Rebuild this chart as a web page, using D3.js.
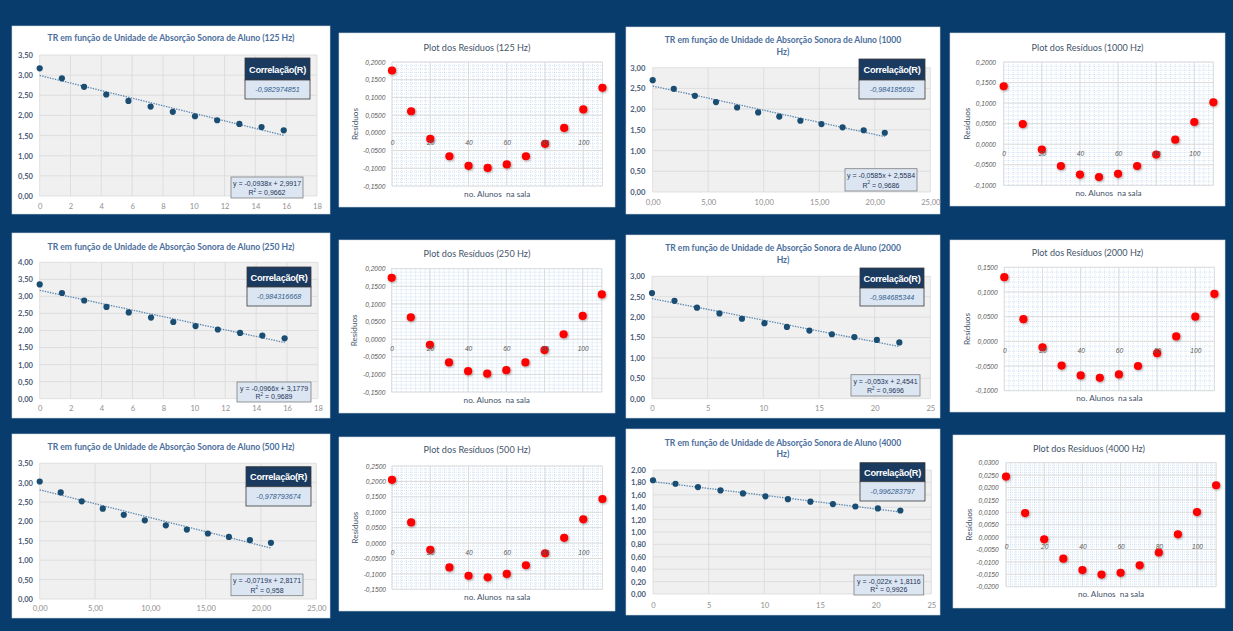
<!DOCTYPE html>
<html><head><meta charset="utf-8">
<script src="https://cdn.jsdelivr.net/npm/d3@7"></script>
<style>body{margin:0;background:#073c6c;} svg{display:block} text{white-space:pre}</style>
</head><body><svg id="c" width="1233" height="631"></svg>
<script>
// ---------------- DATA ----------------
const freqs = ["125 Hz", "250 Hz", "500 Hz", "1000 Hz", "2000 Hz", "4000 Hz"];
const alunos = [0, 10, 20, 30, 40, 50, 60, 70, 80, 90, 100, 110];

const x125 = [0, 1.44, 2.88, 4.32, 5.76, 7.2, 8.64, 10.08, 11.52, 12.96, 14.4, 15.84];
const y125 = [3.17, 2.92, 2.71, 2.52, 2.36, 2.22, 2.09, 1.98, 1.88, 1.79, 1.71, 1.63];
const res125 = [0.176, 0.061, -0.017, -0.066, -0.093, -0.099, -0.089, -0.066, -0.031, 0.014, 0.066, 0.127];

const x250 = [0, 1.44, 2.88, 4.32, 5.76, 7.2, 8.64, 10.08, 11.52, 12.96, 14.4, 15.84];
const y250 = [3.35, 3.10, 2.88, 2.69, 2.53, 2.38, 2.25, 2.13, 2.03, 1.93, 1.85, 1.77];
const res250 = [0.174, 0.062, -0.016, -0.066, -0.091, -0.098, -0.088, -0.066, -0.031, 0.014, 0.066, 0.127];

const x500 = [0, 1.9, 3.8, 5.7, 7.6, 9.5, 11.4, 13.3, 15.2, 17.1, 19.0, 20.9];
const y500 = [3.03, 2.75, 2.52, 2.33, 2.17, 2.03, 1.90, 1.79, 1.69, 1.60, 1.52, 1.45];
const res500 = [0.205, 0.067, -0.022, -0.079, -0.106, -0.111, -0.100, -0.072, -0.033, 0.017, 0.077, 0.143];

const x1000 = [0, 1.9, 3.8, 5.7, 7.6, 9.5, 11.4, 13.3, 15.2, 17.1, 19.0, 20.9];
const y1000 = [2.70, 2.49, 2.32, 2.17, 2.04, 1.92, 1.82, 1.72, 1.64, 1.56, 1.49, 1.43];
const res1000 = [0.141, 0.049, -0.013, -0.053, -0.074, -0.080, -0.072, -0.053, -0.025, 0.011, 0.054, 0.102];

const x2000 = [0, 2.02, 4.04, 6.06, 8.08, 10.1, 12.12, 14.14, 16.16, 18.18, 20.2, 22.22];
const y2000 = [2.59, 2.40, 2.23, 2.09, 1.96, 1.85, 1.76, 1.67, 1.58, 1.51, 1.44, 1.38];
const res2000 = [0.130, 0.045, -0.012, -0.049, -0.069, -0.074, -0.067, -0.050, -0.024, 0.010, 0.050, 0.096];

const x4000 = [0, 2.02, 4.04, 6.06, 8.08, 10.1, 12.12, 14.14, 16.16, 18.18, 20.2, 22.22];
const y4000 = [1.835, 1.778, 1.724, 1.671, 1.622, 1.575, 1.529, 1.489, 1.451, 1.411, 1.380, 1.347];
const res4000 = [0.0244, 0.0097, -0.0009, -0.0087, -0.0133, -0.0151, -0.0144, -0.0114, -0.0062, 0.0011, 0.0101, 0.0209];

const slopes = [-0.0938, -0.0966, -0.0719, -0.0585, -0.053, -0.022];
const intercepts = [2.9917, 3.1779, 2.8171, 2.5584, 2.4541, 1.8116];
const r2Labels = ["0,9662", "0,9689", "0,958", "0,9686", "0,9696", "0,9926"];
const eqLabels = ["y = -0,0938x + 2,9917", "y = -0,0966x + 3,1779", "y = -0,0719x + 2,8171",
                  "y = -0,0585x + 2,5584", "y = -0,053x + 2,4541", "y = -0,022x + 1,8116"];
const corrLabels = ["-0,982974851", "-0,984316668", "-0,978793674", "-0,984185692", "-0,984685344", "-0,996283797"];

// axis tick settings
const trYMax = [3.5, 4, 3.5, 3, 3, 2];
const trYStep = [0.5, 0.5, 0.5, 0.5, 0.5, 0.2];
const trXMax = [18, 18, 25, 25, 25, 25];
const trXStep = [2, 2, 5, 5, 5, 5];
const trXDecimals = [0, 0, 2, 2, 0, 0];
const resYMin = [-0.15, -0.15, -0.15, -0.1, -0.1, -0.02];
const resYMax = [0.2, 0.2, 0.25, 0.2, 0.15, 0.03];
const resYStep = [0.05, 0.05, 0.05, 0.05, 0.05, 0.005];
const resXMax = 110;
const resXTicks = [0, 20, 40, 60, 80, 100];

// ---------------- LAYOUT (pixels) ----------------
const TRL = [
 {card:[12,26,330,214], tY:[38], tW:247, plot:[39.7,55,317,196], xlabY:206, ylabR:33, corr:[245,58,310,80,99], eq:[231,177,303,198]},
 {card:[12,233,330,418], tY:[247], tW:247, plot:[39.7,262.3,318,398.7], xlabY:408, ylabR:33, corr:[247,267,311,287,306], eq:[237,382,311,402]},
 {card:[12,434,330,618], tY:[447.3], tW:247, plot:[39.7,463.3,316.3,599], xlabY:608, ylabR:33, corr:[246,466.7,311,486.7,506], eq:[231,574,303,595.7]},
 {card:[626,27,940,214], tY:[40.3,52], tW:237, plot:[652.7,67.7,930.3,192], xlabY:202, ylabR:645.3, corr:[859,59,925,80,99], eq:[845,168.7,917,191]},
 {card:[626,235,940,418], tY:[248,260], tW:236, plot:[652,276.3,930.3,398.7], xlabY:408, ylabR:645, corr:[860,268,924,288,306], eq:[851,374.7,920,396]},
 {card:[626,429,940,615], tY:[442.7,454.3], tW:237, plot:[653,470,931.3,594], xlabY:605, ylabR:646, corr:[860,462.7,925,481.7,501], eq:[854,575,923.7,595]}
];
const RSL = [
 {card:[339,33,615,207], tY:47, tW:107, x0:392, sc:1.913, y0:62, y1:186, ylabR:385.3, rx:355.3},
 {card:[339,240,615,413], tY:253, tW:107, x0:391.7, sc:1.91, y0:268.7, y1:392, ylabR:385.3, rx:354.3},
 {card:[339,437,615,611], tY:449.3, tW:107, x0:392, sc:1.913, y0:466, y1:589.3, ylabR:386, rx:355.3},
 {card:[950,33,1225,206], tY:47, tW:112, x0:1003.7, sc:1.906, y0:62, y1:185.3, ylabR:996, rx:966.7},
 {card:[950,240,1225,412], tY:252, tW:111.7, x0:1004.3, sc:1.91, y0:267.3, y1:390.7, ylabR:997.7, rx:966.7},
 {card:[953,435,1225,608], tY:448.3, tW:112.3, x0:1006, sc:1.91, y0:462.7, y1:586.7, ylabR:998.7, rx:968.7}
];

const xsAll = [x125, x250, x500, x1000, x2000, x4000];
const ysAll = [y125, y250, y500, y1000, y2000, y4000];
const resAll = [res125, res250, res500, res1000, res2000, res4000];

const svg = d3.select("#c");
svg.append("rect").attr("width",1233).attr("height",631).attr("fill","#073c6c");
const defs = svg.append("defs");
const f = defs.append("filter").attr("id","sh").attr("x","-50%").attr("y","-50%").attr("width","200%").attr("height","200%");
f.append("feDropShadow").attr("dx",0.8).attr("dy",1).attr("stdDeviation",0.8).attr("flood-color","#000").attr("flood-opacity",0.35);

const fmt = (v, d) => (Math.abs(v) < 1e-12 ? 0 : v).toFixed(d).replace(".", ",");
const tickList = (min, max, step) => { const n = Math.round((max - min) / step); return d3.range(n + 1).map(i => +(min + i * step).toFixed(6)); };

function fitText(t, w) {
  const cur = parseFloat(t.attr("font-size"));
  const len = t.node().getComputedTextLength();
  if (len > 0) t.attr("font-size", cur * w / len);
  return parseFloat(t.attr("font-size"));
}

// ---------------- TR PANELS ----------------
TRL.forEach((L, i) => {
  const g = svg.append("g");
  const [cx0, cy0, cx1, cy1] = L.card;
  g.append("rect").attr("x",cx0).attr("y",cy0).attr("width",cx1-cx0).attr("height",cy1-cy0).attr("fill","#fff").attr("stroke","#d0d6de").attr("stroke-width",0.6);
  const title = "TR em função de Unidade de Absorção Sonora de Aluno (" + freqs[i] + ")";
  const lines = L.tY.length === 1 ? [title] : [title.replace(/ Hz\)$/, ""), "Hz)"];
  const cxm = (cx0 + cx1) / 2;
  const t1 = g.append("text").attr("x",cxm).attr("y",L.tY[0]).attr("text-anchor","middle").attr("dominant-baseline","central")
    .attr("font-family","Lato").attr("font-weight","bold").attr("font-size",9).attr("fill","#4a6e9c").text(lines[0]);
  const fs = fitText(t1, L.tW);
  if (lines.length > 1) g.append("text").attr("x",cxm).attr("y",L.tY[1]).attr("text-anchor","middle").attr("dominant-baseline","central")
    .attr("font-family","Lato").attr("font-weight","bold").attr("font-size",fs).attr("fill","#4a6e9c").text(lines[1]);

  const [px0, py0, px1, py1] = L.plot;
  const x = d3.scaleLinear().domain([0, trXMax[i]]).range([px0, px1]);
  const y = d3.scaleLinear().domain([0, trYMax[i]]).range([py1, py0]);
  g.append("rect").attr("x",px0).attr("y",py0).attr("width",px1-px0).attr("height",py1-py0).attr("fill","#f0f0f0");
  const xt = tickList(0, trXMax[i], trXStep[i]);
  const yt = tickList(0, trYMax[i], trYStep[i]);
  g.append("g").selectAll("line").data(xt).join("line").attr("x1",d=>x(d)).attr("x2",d=>x(d)).attr("y1",py0).attr("y2",py1).attr("stroke","#d9d9d9").attr("stroke-width",0.8);
  g.append("g").selectAll("line").data(yt).join("line").attr("x1",px0).attr("x2",px1).attr("y1",d=>y(d)).attr("y2",d=>y(d)).attr("stroke","#d9d9d9").attr("stroke-width",0.8);

  const ya = g.append("g").attr("transform",`translate(${px0},0)`)
    .call(d3.axisLeft(y).tickValues(yt).tickFormat(d=>fmt(d,2)).tickSize(0).tickPadding(px0 - L.ylabR));
  ya.select(".domain").remove();
  ya.selectAll("text").attr("font-family","Lato").attr("font-weight","bold").attr("font-size",7.6).attr("fill","#4b5d78");
  const xa = g.append("g").attr("transform",`translate(0,${py1})`)
    .call(d3.axisBottom(x).tickValues(xt).tickFormat(d=>fmt(d,trXDecimals[i])).tickSize(0).tickPadding(L.xlabY - py1 - 2.7));
  xa.select(".domain").remove();
  xa.selectAll("text").attr("font-family","Lato").attr("font-size",7.6).attr("fill","#8f8f8f");

  // trendline
  const xs = xsAll[i], ys = ysAll[i];
  const xl = xs[xs.length - 1];
  g.append("line").attr("x1",x(0)).attr("y1",y(intercepts[i])).attr("x2",x(xl)).attr("y2",y(intercepts[i] + slopes[i]*xl))
    .attr("stroke","#5b87b3").attr("stroke-width",1.3).attr("stroke-dasharray","1.4,1.2");
  g.append("g").selectAll("circle").data(xs.map((v,k)=>[v, ys[k]])).join("circle")
    .attr("cx",d=>x(d[0])).attr("cy",d=>y(d[1])).attr("r",3.1).attr("fill","#1a4d72");

  // correlation box
  const [bx0, by0, bx1, bm, by1] = L.corr;
  g.append("rect").attr("x",bx0).attr("y",by0).attr("width",bx1-bx0).attr("height",bm-by0).attr("fill","#1a3a5f").attr("stroke","#3a3a3a").attr("stroke-width",0.8);
  g.append("rect").attr("x",bx0).attr("y",bm).attr("width",bx1-bx0).attr("height",by1-bm).attr("fill","#dce6f2").attr("stroke","#3a3a3a").attr("stroke-width",0.8);
  g.append("text").attr("x",(bx0+bx1)/2).attr("y",(by0+bm)/2+0.5).attr("text-anchor","middle").attr("dominant-baseline","central")
    .attr("font-family","Liberation Sans").attr("font-weight","bold").attr("font-size",9.2).attr("letter-spacing",-0.3).attr("fill","#fff").text("Correlação(R)");
  g.append("text").attr("x",(bx0+bx1)/2).attr("y",(bm+by1)/2).attr("text-anchor","middle").attr("dominant-baseline","central")
    .attr("font-family","Liberation Sans").attr("font-style","italic").attr("font-size",7.2).attr("fill","#2f5b8c").text(corrLabels[i]);

  // equation box
  const [ex0, ey0, ex1, ey1] = L.eq;
  g.append("rect").attr("x",ex0).attr("y",ey0).attr("width",ex1-ex0).attr("height",ey1-ey0).attr("fill","#dce6f2").attr("stroke","#7f7f7f").attr("stroke-width",0.8);
  const em = (ex0+ex1)/2, eh = ey1 - ey0;
  g.append("text").attr("x",em).attr("y",ey0 + eh*0.3).attr("text-anchor","middle").attr("dominant-baseline","central")
    .attr("font-family","Liberation Sans").attr("font-size",7).attr("fill","#1f3458").text(eqLabels[i]);
  const r2t = g.append("text").attr("x",em).attr("y",ey0 + eh*0.72).attr("text-anchor","middle").attr("dominant-baseline","central")
    .attr("font-family","Liberation Sans").attr("font-size",7).attr("fill","#1f3458");
  r2t.append("tspan").text("R");
  r2t.append("tspan").attr("font-size",4.5).attr("dy",-2.5).text("2");
  r2t.append("tspan").attr("dy",2.5).text(" = " + r2Labels[i]);
});

// ---------------- RESIDUAL PANELS ----------------
RSL.forEach((L, i) => {
  const g = svg.append("g");
  const [cx0, cy0, cx1, cy1] = L.card;
  g.append("rect").attr("x",cx0).attr("y",cy0).attr("width",cx1-cx0).attr("height",cy1-cy0).attr("fill","#fff").attr("stroke","#d0d6de").attr("stroke-width",0.6);
  const t = g.append("text").attr("x",(cx0+cx1)/2).attr("y",L.tY).attr("text-anchor","middle").attr("dominant-baseline","central")
    .attr("font-family","Lato").attr("font-size",10).attr("fill","#44546a").text("Plot dos Resíduos (" + freqs[i] + ")");
  fitText(t, L.tW);

  const x = d3.scaleLinear().domain([0, resXMax]).range([L.x0, L.x0 + L.sc * resXMax]);
  const y = d3.scaleLinear().domain([resYMin[i], resYMax[i]]).range([L.y1, L.y0]);
  const [px0, px1] = x.range();
  // minor grid
  const ymin = tickList(resYMin[i], resYMax[i], resYStep[i] / 5);
  const xmin = tickList(0, resXMax, 2.5);
  g.append("g").selectAll("line").data(ymin).join("line").attr("x1",px0).attr("x2",px1).attr("y1",d=>y(d)).attr("y2",d=>y(d))
    .attr("stroke","#a9c8e8").attr("stroke-width",0.6).attr("stroke-dasharray","0.8,1.2");
  g.append("g").selectAll("line").data(xmin).join("line").attr("x1",d=>x(d)).attr("x2",d=>x(d)).attr("y1",L.y0).attr("y2",L.y1)
    .attr("stroke","#a9c8e8").attr("stroke-width",0.6).attr("stroke-dasharray","0.8,1.2");
  // major grid
  const yt = tickList(resYMin[i], resYMax[i], resYStep[i]);
  g.append("g").selectAll("line").data(yt).join("line").attr("x1",px0).attr("x2",px1).attr("y1",d=>y(d)).attr("y2",d=>y(d))
    .attr("stroke","#d9d9d9").attr("stroke-width",0.9);
  g.append("g").selectAll("line").data(resXTicks.concat([resXMax])).join("line").attr("x1",d=>x(d)).attr("x2",d=>x(d)).attr("y1",L.y0).attr("y2",L.y1)
    .attr("stroke","#d9d9d9").attr("stroke-width",0.9);

  // points
  const res = resAll[i];
  g.append("g").selectAll("circle").data(alunos.map((a,k)=>[a, res[k]])).join("circle")
    .attr("cx",d=>x(d[0])).attr("cy",d=>y(d[1])).attr("r",4.1).attr("fill","#ff0000").attr("filter","url(#sh)");

  // axes
  const ya = g.append("g").attr("transform",`translate(${px0},0)`)
    .call(d3.axisLeft(y).tickValues(yt).tickFormat(d=>fmt(d,4)).tickSize(0).tickPadding(px0 - L.ylabR));
  ya.select(".domain").remove();
  ya.selectAll("text").attr("font-family","Liberation Sans").attr("font-style","italic").attr("font-size",6.6).attr("fill","#595959");
  const xa = g.append("g").attr("transform",`translate(0,${y(0)})`)
    .call(d3.axisBottom(x).tickValues(resXTicks).tickFormat(d=>d).tickSize(0).tickPadding(7));
  xa.select(".domain").remove();
  xa.selectAll("text").attr("font-family","Liberation Sans").attr("font-style","italic").attr("font-size",6.6).attr("fill","#595959");

  g.append("text").attr("transform",`translate(${L.rx},${(L.y0+L.y1)/2}) rotate(-90)`).attr("text-anchor","middle").attr("dominant-baseline","central")
    .attr("font-family","Lato").attr("font-size",8.2).attr("fill","#44546a").text("Resíduos");
  g.append("text").attr("x",(px0+px1)/2).attr("y",L.y1 + 7.6).attr("text-anchor","middle").attr("dominant-baseline","central")
    .attr("font-family","Lato").attr("font-size",8.2).attr("fill","#44546a").text("no. Alunos  na sala");
});
</script></body></html>
